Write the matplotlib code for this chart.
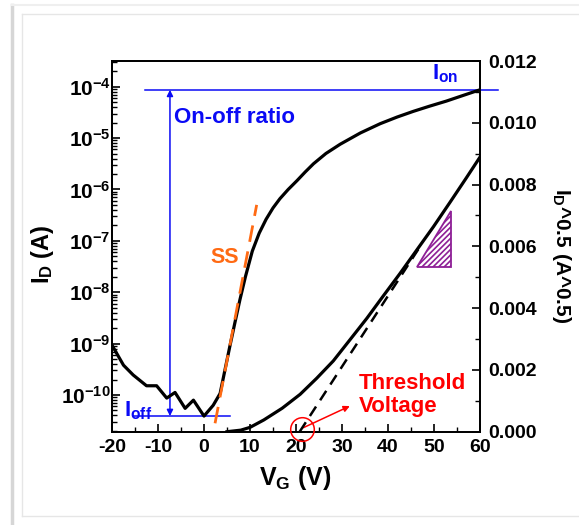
import numpy as np
import matplotlib
matplotlib.use("Agg")
import matplotlib.pyplot as plt
from matplotlib.ticker import FixedLocator, LogLocator, MultipleLocator, FuncFormatter, NullFormatter
from matplotlib.lines import Line2D

plt.rcParams['font.family'] = ['Liberation Sans', 'DejaVu Sans']
plt.rcParams['font.weight'] = 'bold'
plt.rcParams['axes.unicode_minus'] = False
plt.rcParams['mathtext.fontset'] = 'custom'
plt.rcParams['mathtext.rm'] = 'Liberation Sans:bold'
plt.rcParams['mathtext.bf'] = 'Liberation Sans:bold'
plt.rcParams['mathtext.it'] = 'Liberation Sans:bold'
plt.rcParams['hatch.linewidth'] = 1.2

# transfer curve, log scale (exponent of I_D in A)
vg_log = [-20, -17.5, -15.4, -12.5, -10.3, -8.1, -6.3, -4.1, -2.3, 0, 2.0, 3.5,
          5.6, 6.7, 7.8, 9, 10.5, 12, 13.5, 15, 16.5, 18.3, 20.2, 22, 23.8, 26.5,
          29.6, 34, 38.3, 42, 45.5, 49, 52.7, 56, 60]
logid = [-9.03, -9.42, -9.61, -9.82, -9.82, -10.06, -9.95, -10.26, -10.1, -10.41,
         -10.2, -9.97, -9.06, -8.6, -8.15, -7.7, -7.2, -6.85, -6.58, -6.36, -6.18,
         -6.0, -5.83, -5.66, -5.5, -5.3, -5.12, -4.9, -4.72, -4.59, -4.48, -4.38,
         -4.28, -4.18, -4.06]

# sqrt(I_D) curve (right axis)
vg_sqrt = [5, 8, 10, 13, 17, 20.9, 24.5, 28.1, 31.7, 35.4, 39, 42.6, 46.2, 49.9,
           53.5, 57, 60]
sqrt_id = [0, 0.00005, 0.00014, 0.00038, 0.00076, 0.00121, 0.00173, 0.00229,
           0.00297, 0.00367, 0.0044, 0.00512, 0.00587, 0.00664, 0.00743, 0.00821,
           0.00889]

# annotation helpers
tangent_v = [20.8, 47]
tangent_y = [0.0, 0.0060]
ss_v = [2.4, 11.45]
ss_log = [-10.55, -6.30]
tri_v = [46.2, 53.8, 53.8]
tri_y = [0.00534, 0.00534, 0.00715]
ion_log = -4.06
ioff_log = -10.41
ion_span = [-12.8, 63.9]
ioff_span = [-15.4, 5.6]
ratio_v = -7.4
vth = 21.2

blue = '#0a0af5'
red = '#ff0000'
orange = '#ff6a13'
purple = '#8e1f96'

fig = plt.figure(figsize=(5.79, 5.25), dpi=100)
ax = fig.add_axes([112/579, 93.3/525, 368/579, 370.7/525])
ax2 = ax.twinx()

ax.set_yscale('log')
ax.set_xlim(-20, 60)
ax.set_ylim(10**-10.714, 10**-3.5)
ax2.set_ylim(0, 0.012)

ax.plot(vg_log, 10**np.array(logid), color='black', lw=2.3, zorder=5)
ax2.plot(vg_sqrt, sqrt_id, color='black', lw=2.3, zorder=5)
ax2.plot(tangent_v, tangent_y, color='black', lw=1.8, dashes=(4.5, 3), zorder=4)
ax.plot(ss_v, 10**np.array(ss_log), color=orange, lw=2, dashes=(6, 3.5), zorder=6)
ax2.fill(tri_v, tri_y, facecolor='none', edgecolor=purple, hatch='//////', lw=1.3)

# on / off levels
ax.plot(ion_span, [10**ion_log]*2, color=blue, lw=1.1, clip_on=False, zorder=3)
ax.plot(ioff_span, [10**ioff_log]*2, color=blue, lw=1.1, zorder=3)
ax.annotate('', xy=(ratio_v, 10**ion_log), xytext=(ratio_v, 10**ioff_log),
            arrowprops=dict(arrowstyle='<|-|>', color=blue, lw=1.1,
                            mutation_scale=9, shrinkA=0, shrinkB=0))
ax.text(-6.6, 10**-4.59, 'On-off ratio', color=blue, fontsize=16,
        fontweight='bold', ha='left', va='center')
ax.text(55.4, 10**-3.97, r'$\mathbf{I_{on}}$', color=blue, fontsize=16,
        ha='right', va='bottom')
ax.text(-17.3, 10**-10.3, r'$\mathbf{I_{off}}$', color=blue, fontsize=16,
        ha='left', va='center')
ax.text(4.5, 10**-7.32, 'SS', color=orange, fontsize=15.5, fontweight='bold',
        ha='center', va='center')

# threshold voltage marker
ax2.plot([vth], [0.0001], 'o', ms=17, mfc='none', mec=red, mew=1.1, clip_on=False, zorder=7)
ax2.annotate('', xy=(31.7, 0.00083), xytext=(21.6, 0.00013),
             arrowprops=dict(arrowstyle='-|>', color=red, lw=1.1,
                             mutation_scale=9, shrinkA=0, shrinkB=0))
ax2.text(33.6, 0.00118, 'Threshold\nVoltage', color=red, fontsize=16,
         fontweight='bold', ha='left', va='center', linespacing=1.1)

# ticks
ax.xaxis.set_major_locator(MultipleLocator(10))
ax.xaxis.set_minor_locator(MultipleLocator(5))
ax.yaxis.set_major_locator(FixedLocator([10.0**k for k in range(-10, -3)]))
ax.yaxis.set_minor_locator(LogLocator(base=10, subs=np.arange(2, 10), numticks=20))
ax.yaxis.set_major_formatter(FuncFormatter(lambda v, p: r'$\mathbf{10^{%d}}$' % round(np.log10(v))))
ax.yaxis.set_minor_formatter(NullFormatter())
ax2.yaxis.set_major_locator(MultipleLocator(0.002))
ax2.yaxis.set_minor_locator(MultipleLocator(0.001))
ax2.yaxis.set_major_formatter(FuncFormatter(lambda v, p: '%.3f' % v))

ax.tick_params(axis='both', which='major', direction='in', length=6, width=1.2,
               labelsize=14, top=False, right=False)
ax.tick_params(axis='both', which='minor', direction='in', length=3.5, width=1,
               top=False, right=False)
ax.tick_params(axis='y', which='major', pad=1, labelsize=15)
ax.tick_params(axis='x', which='major', pad=5)
ax2.tick_params(axis='y', which='major', direction='in', length=6, width=1.2,
                labelsize=14, pad=6)
ax2.tick_params(axis='y', which='minor', direction='in', length=3.5, width=1)
for a in (ax, ax2):
    for s in a.spines.values():
        s.set_linewidth(1.3)

# axis titles
fig.text(295/579, 1 - 478/525, r'$\mathbf{V_G}$ (V)', fontsize=18, fontweight='bold',
         ha='center', va='center')
fig.text(43/579, 1 - 254/525, r'$\mathbf{I_D}$ (A)', fontsize=17, fontweight='bold',
         ha='center', va='center', rotation=90)
fig.text(562/579, 1 - 256/525, r'$\mathbf{I_D}$^0.5 (A^0.5)', fontsize=15,
         fontweight='bold', ha='center', va='center', rotation=270)

# screenshot frame
fig.add_artist(Line2D([12/579, 12/579], [0, 1 - 5/525], color='#d6d6d6', lw=2.5))
fig.add_artist(Line2D([12/579, 1], [1 - 5/525, 1 - 5/525], color='#efefef', lw=1.5))
fig.add_artist(Line2D([22/579, 22/579], [1 - 516/525, 1 - 14/525], color='#e6e6e6', lw=1))
fig.add_artist(Line2D([22/579, 1], [1 - 14/525, 1 - 14/525], color='#e6e6e6', lw=1))
fig.add_artist(Line2D([22/579, 1], [1 - 516/525, 1 - 516/525], color='#e6e6e6', lw=1))

fig.savefig('out.png', dpi=100)
